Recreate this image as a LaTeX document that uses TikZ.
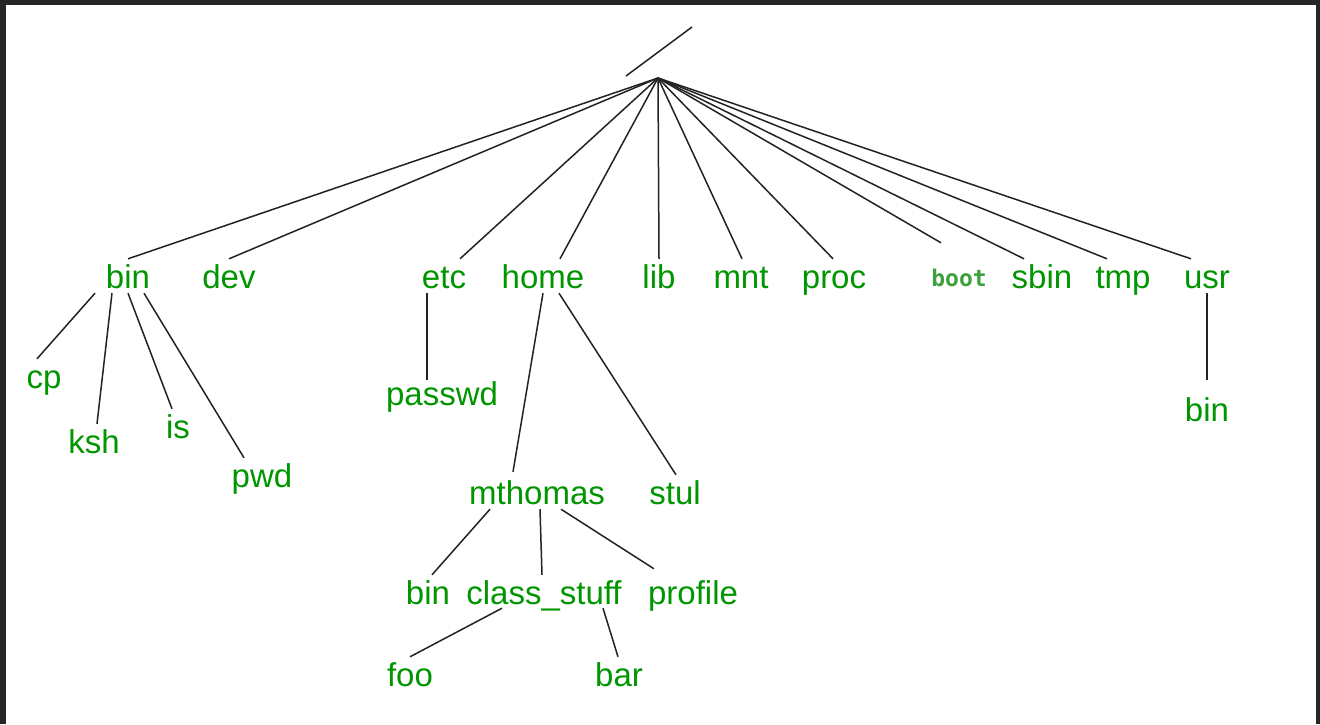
\documentclass[tikz,border=0pt]{standalone}
\usepackage{fontspec}
\setmainfont{Liberation Sans}
\newfontfamily\monobold{DejaVu Sans Mono}
\definecolor{dirgreen}{RGB}{0,150,0}
\definecolor{bootgreen}{RGB}{60,160,60}
\definecolor{edge}{RGB}{35,35,35}
\definecolor{frame}{RGB}{38,38,38}
\begin{document}
\begin{tikzpicture}[x=1pt,y=-1pt,
  dir/.style={anchor=base,inner sep=0pt,text height=29pt,text depth=5pt,
    text=dirgreen,font=\fontsize{33}{33}\selectfont},
  bootdir/.style={anchor=base,inner sep=0pt,text height=29pt,text depth=5pt,
    text=bootgreen,font=\monobold\bfseries\fontsize{23}{23}\selectfont},
  link/.style={draw=edge,line width=1.5pt}]
% window frame
\useasboundingbox (0,0) rectangle (1320,724);
\fill[frame] (0,0) rectangle (1320,724);
\fill[white] (6,5) rectangle (1316,724);

% root and its slash
\coordinate (root) at (658,78);
\coordinate (slashlo) at (626,76);
\coordinate (slashhi) at (692,27);
\draw[link] (slashlo) -- (slashhi);

% first level
\node[dir] (bin) at (128,288) {bin};
\node[dir] (dev) at (229,288) {dev};
\node[dir] (etc) at (444,288) {etc};
\node[dir] (home) at (543,288) {home};
\node[dir] (lib) at (659,288) {lib};
\node[dir] (mnt) at (741,288) {mnt};
\node[dir] (proc) at (834,288) {proc};
\node[bootdir] (boot) at (959,286) {boot};
\node[dir] (sbin) at (1042,288) {sbin};
\node[dir] (tmp) at (1123,288) {tmp};
\node[dir] (usr) at (1207,288) {usr};

% contents of bin
\node[dir] (cp) at (44,388) {cp};
\node[dir] (ksh) at (94,453) {ksh};
\node[dir] (is) at (178,438) {is};
\node[dir] (pwd) at (262,487) {pwd};

% contents of etc, home, usr
\node[dir] (passwd) at (442,405) {passwd};
\node[dir] (mthomas) at (537,504) {mthomas};
\node[dir] (stul) at (675,504) {stul};
\node[dir] (usrbin) at (1207,421) {bin};

% contents of mthomas
\node[dir] (mbin) at (428,604) {bin};
\node[dir] (cstuff) at (544,604) {class\_stuff};
\node[dir] (profile) at (693,604) {profile};
\node[dir] (foo) at (410,686) {foo};
\node[dir] (bar) at (619,686) {bar};

% root fan
\draw[link] (root) -- (bin.north);
\draw[link] (root) -- (dev.north);
\draw[link] (root) -- ([xshift=16pt]etc.north);
\draw[link] (root) -- ([xshift=17pt]home.north);
\draw[link] (root) -- (lib.north);
\draw[link] (root) -- ([xshift=1pt]mnt.north);
\draw[link] (root) -- ([xshift=-1pt]proc.north);
\draw[link] (root) -- ([xshift=-18pt,yshift=14pt]boot.north);
\draw[link] (root) -- ([xshift=-18pt]sbin.north);
\draw[link] (root) -- ([xshift=-16pt]tmp.north);
\draw[link] (root) -- ([xshift=-16pt]usr.north);

% bin
\draw[link] ([xshift=-33pt]bin.south) -- ([xshift=-7pt]cp.north);
\draw[link] ([xshift=-16pt]bin.south) -- ([xshift=3pt]ksh.north);
\draw[link] (bin.south) -- ([xshift=-6pt]is.north);
\draw[link] ([xshift=16pt]bin.south) -- ([xshift=-18pt]pwd.north);

% etc, home, usr
\draw[link] ([xshift=-17pt]etc.south) -- ([xshift=-15pt,yshift=-4pt]passwd.north);
\draw[link] (home.south) -- ([xshift=-24pt,yshift=3pt]mthomas.north);
\draw[link] ([xshift=16pt]home.south) -- ([xshift=1pt]stul.north);
\draw[link] (usr.south) -- ([yshift=12pt]usrbin.north);

% mthomas
\draw[link] ([xshift=-47pt]mthomas.south) -- ([xshift=4pt]mbin.north);
\draw[link] ([xshift=3pt]mthomas.south) -- ([xshift=-2pt]cstuff.north);
\draw[link] ([xshift=24pt]mthomas.south) -- ([xshift=-39pt,yshift=6pt]profile.north);
\draw[link] ([xshift=-42pt,yshift=1pt]cstuff.south) -- (foo.north);
\draw[link] ([xshift=59pt,yshift=1pt]cstuff.south) -- ([xshift=-1pt]bar.north);
\end{tikzpicture}
\end{document}
